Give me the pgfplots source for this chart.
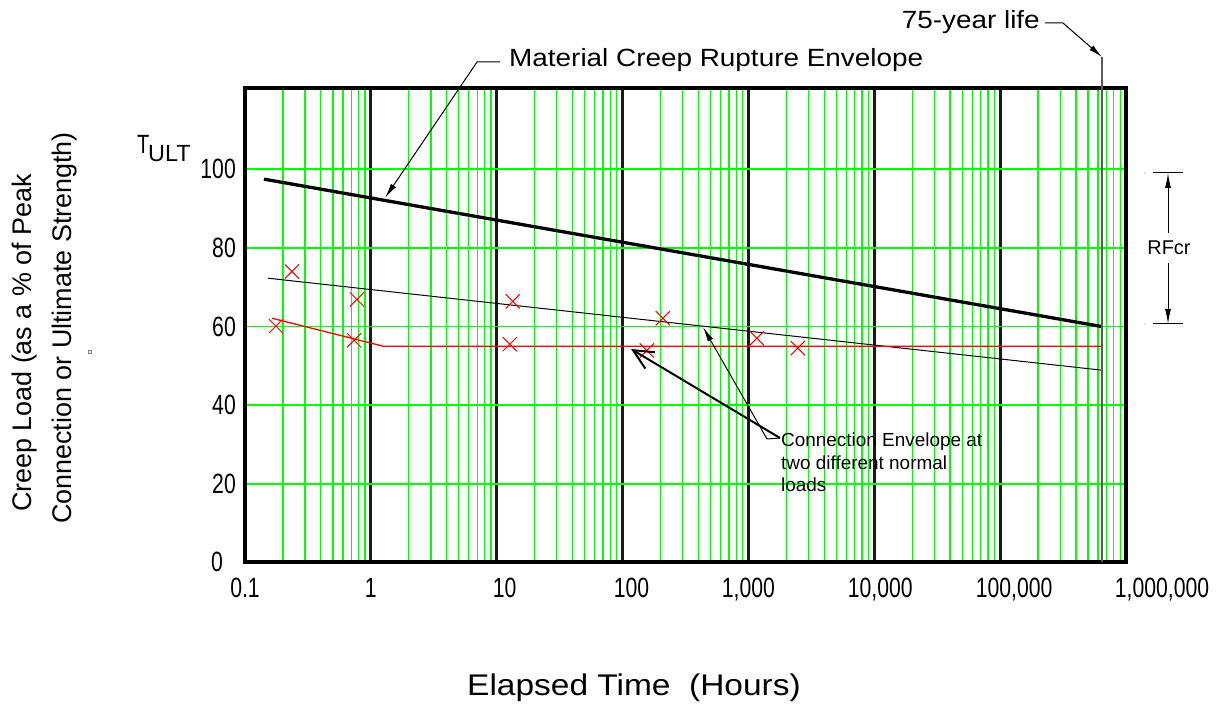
\documentclass[border=0pt]{standalone}
\usepackage{fontspec}
\setmainfont{Liberation Sans}
\newfontfamily\condfont[FakeStretch=0.76]{Liberation Sans}
\newfontfamily\widefont[FakeStretch=1.12]{Liberation Sans}
\usepackage{pgfplots}
\pgfplotsset{compat=1.18}
\usetikzlibrary{arrows.meta}
\definecolor{gridgreen}{RGB}{0,255,0}
\begin{document}
\begin{tikzpicture}
\path[use as bounding box] (0,0) rectangle (1228bp,707bp);
\begin{axis}[
  at={(245bp,144.7bp)}, anchor=south west,
  scale only axis, width=881bp, height=474.3bp,
  xmode=log, log basis x=10,
  xmin=0.1, xmax=1000000, ymin=0, ymax=120.7,
  xtick={0.1,1,10,100,1000,10000,100000,1000000},
  xticklabels={0.1,1,{\hspace*{16bp}10},{\hspace*{18bp}100},{1,000},{\hspace*{12bp}10,000},{\hspace*{28bp}100,000},{\hspace*{72bp}1,000,000}},
  minor xtick={0.2,0.3,0.4,0.5,0.6,0.7,0.8,0.9,2,3,4,5,6,7,8,9,20,30,40,50,60,70,80,90,200,300,400,500,600,700,800,900,2000,3000,4000,5000,6000,7000,8000,9000,20000,30000,40000,50000,60000,70000,80000,90000,200000,300000,400000,500000,600000,700000,800000,900000},
  ytick={0,20,40,60,80,100},
  yticklabels={{0\hspace*{13bp}},20,40,60,80,100},
  xmajorgrids, xminorgrids, ymajorgrids,
  grid style={color=gridgreen, line width=1.3bp},
  major x grid style={color=black!90, line width=2.8bp},
  minor x grid style={color=gridgreen, line width=1.3bp},
  major y grid style={color=gridgreen, line width=1.7bp},
  major tick length=0pt, minor tick length=0pt,
  axis line style={line width=3.6bp, black},
  tick label style={font=\condfont\fontsize{28}{28}\selectfont, /pgf/number format/assume math mode=true},
  xticklabel style={anchor=north, inner sep=0pt, yshift=-16bp},
  yticklabel style={anchor=east, inner sep=0pt, xshift=-9bp},
  clip=false,
]
% Material creep rupture envelope
\addplot[black, line width=3.3bp] coordinates {(0.1416,97.5) (640000,60.0)};
% Connection envelope (upper normal load)
\addplot[black, line width=1bp] coordinates {(0.152,72.3) (640000,48.9)};
% Connection envelope (lower normal load)
\addplot[red, line width=1.3bp] coordinates {(0.164,62.1) (1.25,55.0) (640000,55.0)};
% Test points
\addplot[red, only marks, mark=x, mark size=10bp, mark options={line width=1bp}] coordinates {
 (0.236,74.0) (0.775,66.9) (0.176,60.1) (0.735,56.5)
 (13.4,66.4) (12.7,55.5) (209,62.1) (156,53.9) (1167,57.0) (2466,54.5)};
\end{axis}

\begin{scope}[x=1bp,y=-1bp,shift={(0bp,707bp)}]
% 75-year life
\draw[black!65, line width=1.3bp] (1102,57) -- (1102,562);
\draw[black, line width=1bp, -{Latex[length=14bp,width=6bp]}] (1045,23) -- (1063,23) -- (1102,57);
\node[anchor=base east, inner sep=0pt, font=\widefont\fontsize{25}{25}\selectfont] at (1040,29) {75-year life};
% Material leader
\node[anchor=base west, inner sep=0pt, font=\widefont\fontsize{25}{25}\selectfont] at (509,67) {Material Creep Rupture Envelope};
\draw[black, line width=1bp, -{Latex[length=15bp,width=6bp]}] (500,62) -- (477,62) -- (385,198);
% Connection envelope arrows
\draw[black, line width=2bp, -{Straight Barb[length=20bp,width=19bp]}] (780,438) -- (631,349);
\draw[black, line width=1bp] (780,438) -- (767,439);
\draw[black, line width=1bp, -{Latex[length=15bp,width=6bp]}] (767,439) -- (703,327);
\node[anchor=base west, inner sep=0pt, font=\fontsize{19}{19}\selectfont] at (781,447) {Connection Envelope at};
\node[anchor=base west, inner sep=0pt, font=\fontsize{19}{19}\selectfont] at (781,469.5) {two different normal};
\node[anchor=base west, inner sep=0pt, font=\fontsize{19}{19}\selectfont] at (781,492) {loads};
% RFcr dimension
\draw[black, line width=1bp] (1153,173) -- (1183,173);
\draw[black, line width=1bp] (1153,324) -- (1183,324);
\fill[gray] (1145,173) circle (0.7);
\fill[gray] (1145,324) circle (0.7);
\draw[black, line width=1bp, -{Latex[length=15bp,width=6bp]}] (1168,233) -- (1168,173);
\draw[black, line width=1bp, -{Latex[length=15bp,width=6bp]}] (1168,263) -- (1168,324);
\node[inner sep=0pt, font=\fontsize{20}{20}\selectfont] at (1169,248) {RFcr};
% T_ULT
\node[anchor=base west, inner sep=0pt, font=\condfont\fontsize{26.5}{26.5}\selectfont] at (137,154) {T};
\node[anchor=base west, inner sep=0pt, font=\fontsize{23.5}{23.5}\selectfont] at (148,162) {ULT};
% x label
\node[anchor=base west, inner sep=0pt, font=\widefont\fontsize{30}{30}\selectfont] at (467,696) {Elapsed Time\ \ (Hours)};
% small artefact
\draw[gray, line width=0.5bp] (88.5,350.5) rectangle (91.5,353.5);
\end{scope}
% y label
\node[rotate=90, anchor=base, inner sep=0pt, font=\fontsize{27}{27}\selectfont] at (31bp,364bp) {Creep Load (as a \% of Peak};
\node[rotate=90, anchor=base, inner sep=0pt, font=\fontsize{27}{27}\selectfont] at (71bp,379bp) {Connection or Ultimate Strength)};
\end{tikzpicture}
\end{document}
